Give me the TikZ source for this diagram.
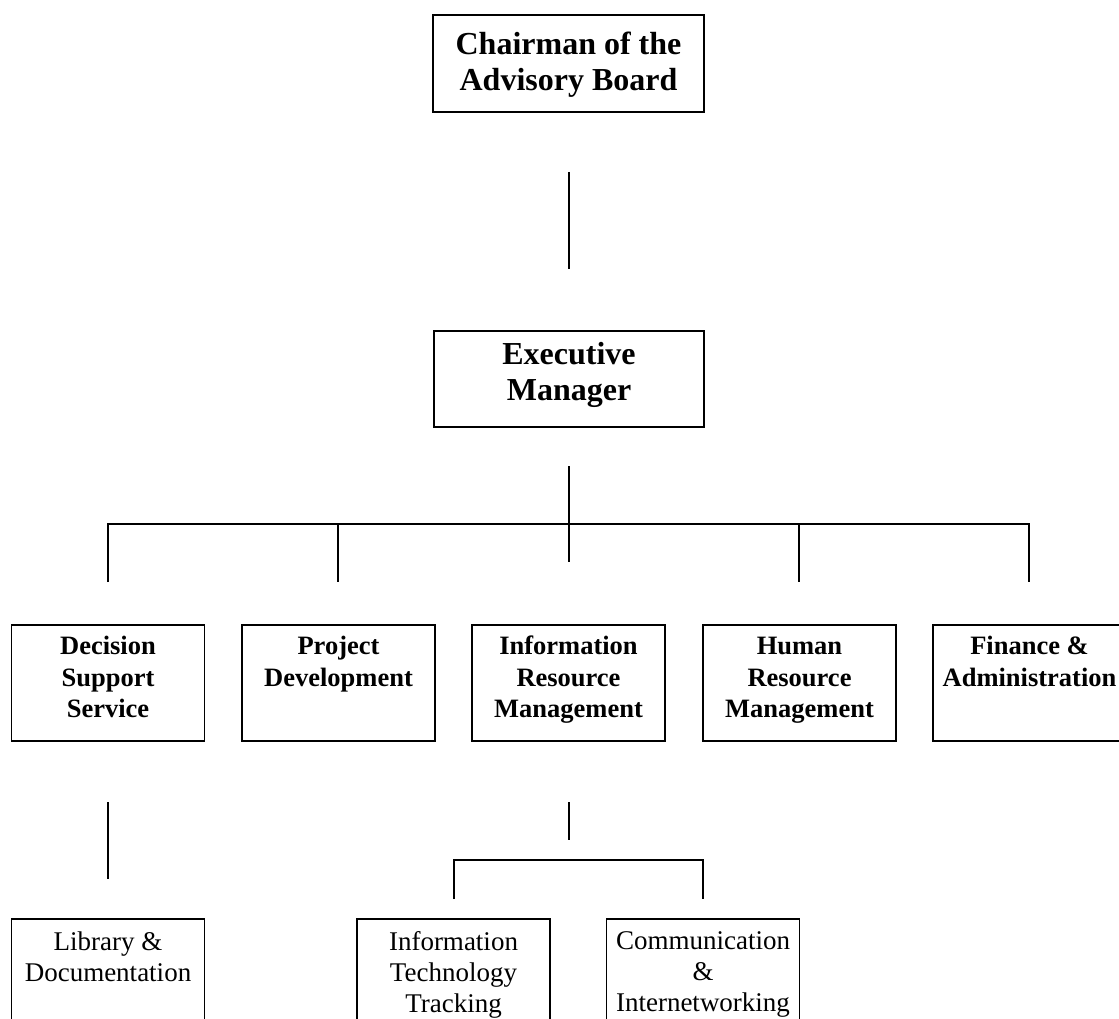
\documentclass[tikz,border=0pt]{standalone}
\usepackage{fontspec}
\setmainfont{Liberation Serif}
\begin{document}
\begin{tikzpicture}[x=1pt,y=-1pt,
  topbox/.style={draw, line width=1.4pt, inner sep=0pt, minimum width=271pt, minimum height=97pt},
  rowbox/.style={draw, line width=1.4pt, inner sep=0pt, minimum width=193pt, minimum height=116pt},
  toptext/.style={anchor=base, inner sep=0pt, font=\fontsize{32}{36}\selectfont\bfseries},
  rowtext/.style={anchor=base, inner sep=0pt, font=\fontsize{26.5}{31.8}\selectfont\bfseries},
  leaftext/.style={anchor=base, inner sep=0pt, font=\fontsize{27}{31}\selectfont},
  link/.style={line width=1.3pt}]
\useasboundingbox (0,0) rectangle (1119,1019);
\clip (0,0) rectangle (1119,1019);

% top boxes
\node[topbox] (chair) at (568.5,63.5) {};
\node[toptext] (chairt) at (chair.north) [yshift=-40pt] {\parbox[t]{260pt}{\centering Chairman of the\\Advisory Board}};
\node[topbox, minimum width=270pt, minimum height=96pt] (exec) at (569,379) {};
\node[toptext] (exect) at (exec.north) [yshift=-34pt] {\parbox[t]{260pt}{\centering Executive\\Manager}};

% second row
\node[rowbox] (dss) at (108,683) {};
\node[rowbox] (pd)  at (338.5,683) {};
\node[rowbox] (irm) at (568.5,683) {};
\node[rowbox] (hrm) at (799.5,683) {};
\node[rowbox] (fa)  at (1029.5,683) {};
\node[rowtext] (dsst) at (dss.north) [yshift=-30pt] {\parbox[t]{190pt}{\centering Decision\\Support\\Service}};
\node[rowtext] (pdt)  at (pd.north)  [yshift=-30pt] {\parbox[t]{190pt}{\centering Project\\Development}};
\node[rowtext] (irmt) at (irm.north) [yshift=-30pt] {\parbox[t]{190pt}{\centering Information\\Resource\\Management}};
\node[rowtext] (hrmt) at (hrm.north) [yshift=-30pt] {\parbox[t]{190pt}{\centering Human\\Resource\\Management}};
\node[rowtext] (fat)  at (fa.north)  [yshift=-30pt] {\parbox[t]{190pt}{\centering Finance \&\\Administration}};

% bottom row
\node[rowbox] (lib) at (108,977) {};
\node[rowbox] (itt) at (453.5,977) {};
\node[rowbox] (com) at (703,977) {};
\node[leaftext] (libt) at (lib.north) [yshift=-32pt] {\parbox[t]{190pt}{\centering Library \&\\Documentation}};
\node[leaftext] (ittt) at (itt.north) [yshift=-32pt] {\parbox[t]{190pt}{\centering Information\\Technology\\Tracking}};
\node[leaftext] (comt) at (com.north) [yshift=-31pt] {\parbox[t]{190pt}{\centering Communication\\\&\\Internetworking}};

% connector end points
\coordinate (c1a) at (569,172);
\coordinate (c1b) at (569,269);
\coordinate (c2a) at (569,466);
\coordinate (c2b) at (569,562);
\coordinate (hL) at (108,524);
\coordinate (hR) at (1029,524);
\coordinate (d1) at (108,582);
\coordinate (d2a) at (338,524);
\coordinate (d2) at (338,582);
\coordinate (d4a) at (799,524);
\coordinate (d4) at (799,582);
\coordinate (d5) at (1029,582);
\coordinate (e1a) at (108,802);
\coordinate (e1b) at (108,879);
\coordinate (e2a) at (569,802);
\coordinate (e2b) at (569,840);
\coordinate (bL) at (454,899);
\coordinate (bLt) at (454,860);
\coordinate (bRt) at (703,860);
\coordinate (bR) at (703,899);

\draw[link] (c1a) -- (c1b);
\draw[link] (c2a) -- (c2b);
\draw[link] (d1) -- (hL) -- (hR) -- (d5);
\draw[link] (d2a) -- (d2);
\draw[link] (d4a) -- (d4);
\draw[link] (e1a) -- (e1b);
\draw[link] (e2a) -- (e2b);
\draw[link] (bL) -- (bLt) -- (bRt) -- (bR);
\end{tikzpicture}
\end{document}
